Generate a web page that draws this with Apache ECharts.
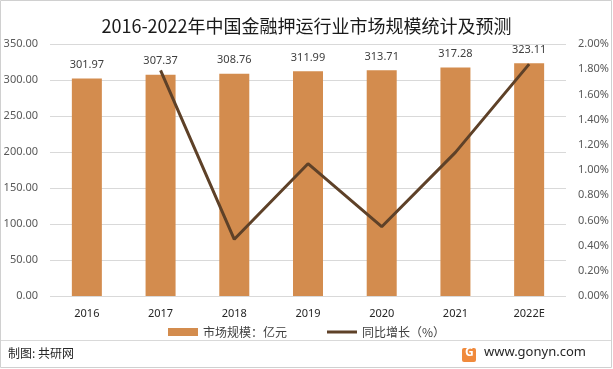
<!DOCTYPE html>
<html><head><meta charset="utf-8">
<script src="https://cdn.jsdelivr.net/npm/echarts@6/dist/echarts.min.js"></script>
<style>html,body{margin:0;padding:0;background:#fff}#c{width:613px;height:369px}</style>
</head><body><div id="c"></div>
<script>
const categories = ['2016','2017','2018','2019','2020','2021','2022E'];
const marketSize = [301.97,307.37,308.76,311.99,313.71,317.28,323.11];
const growth = [null,1.79,0.45,1.05,0.55,1.14,1.84];
const leftTicks = [0,50,100,150,200,250,300,350];
const rightTicks = [0,0.2,0.4,0.6,0.8,1.0,1.2,1.4,1.6,1.8,2.0];

const chart = echarts.init(document.getElementById('c'));
const axisFont = {fontFamily:'Noto Sans', fontSize:11, color:'#595959'};
chart.setOption({
  animation:false,
  title:{text:'2016-2022年中国金融押运行业市场规模统计及预测', left:'center', top:12,
    textStyle:{fontFamily:'Noto Sans CJK SC', fontSize:18, fontWeight:'normal', color:'#1a1a1a'}},
  grid:{left:50, right:47, top:44, bottom:73},
  legend:{bottom:26, left:'center', itemGap:40, itemWidth:30, itemHeight:8,
    textStyle:{fontFamily:'Noto Sans CJK SC', fontSize:12, color:'#404040'},
    data:[{name:'市场规模：亿元', icon:'rect'},{name:'同比增长（%）', icon:'path://M0,0 L30,0 L30,3 L0,3 Z'}]},
  xAxis:{type:'category', data:categories,
    axisLine:{show:false}, axisTick:{show:false},
    axisLabel:Object.assign({margin:12, color:'#262626'}, {fontFamily:'Noto Sans', fontSize:11})},
  yAxis:[
    {type:'value', min:leftTicks[0], max:leftTicks[leftTicks.length-1], interval:50,
     axisLabel:Object.assign({formatter:v=>v.toFixed(2), margin:12}, axisFont),
     splitLine:{lineStyle:{color:'#d9d9d9'}}, axisLine:{show:false}, axisTick:{show:false}},
    {type:'value', min:rightTicks[0], max:rightTicks[rightTicks.length-1], interval:0.2,
     axisLabel:Object.assign({formatter:v=>v.toFixed(2)+'%', margin:12}, axisFont),
     splitLine:{show:false}, axisLine:{show:false}, axisTick:{show:false}}
  ],
  series:[
    {name:'市场规模：亿元', type:'bar', data:marketSize, barWidth:30,
     itemStyle:{color:'#D38C4E'},
     label:{show:true, position:'top', distance:8, formatter:p=>p.value.toFixed(2),
       fontFamily:'Noto Sans', fontSize:11, color:'#404040'}},
    {name:'同比增长（%）', type:'line', yAxisIndex:1, data:growth, symbol:'none',
     lineStyle:{color:'#5E4128', width:3}, itemStyle:{color:'#5E4128'}}
  ],
  graphic:[
    {type:'rect', shape:{x:0.5,y:0.5,width:611,height:367}, style:{fill:'none', stroke:'#d0d0d0', lineWidth:1}, z:-1},
    {type:'line', shape:{x1:1,y1:340.5,x2:611,y2:340.5}, style:{stroke:'#d9d9d9', lineWidth:1}},
    {type:'text', left:8, top:347, style:{text:'制图: 共研网', fontFamily:'Noto Sans CJK SC', fontSize:12, fill:'#262626'}},
    {type:'rect', shape:{x:462,y:348,width:14,height:14,r:2}, style:{fill:'#F08A3C'}},
    {type:'text', left:465, top:347, style:{text:'G', fontFamily:'Noto Sans', fontWeight:'bold', fontSize:12, fill:'#fff'}},
    {type:'text', left:484, top:346, style:{text:'www.gonyn.com', fontFamily:'Noto Sans', fontSize:13, fill:'#262626'}}
  ]
});
</script></body></html>
